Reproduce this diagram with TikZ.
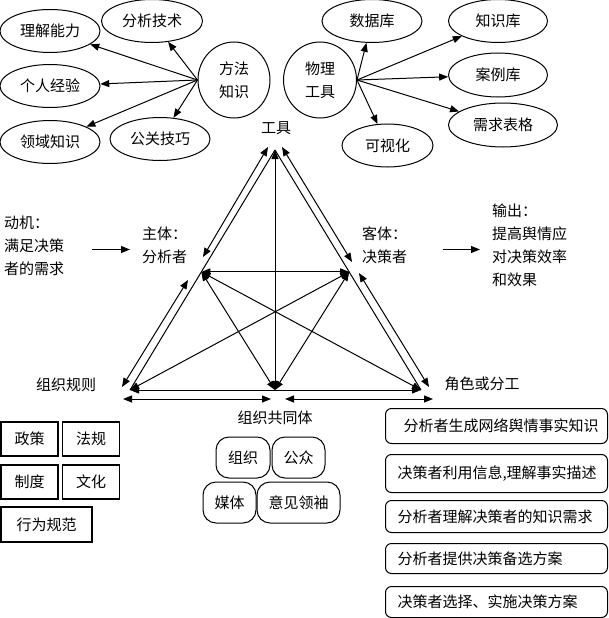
\documentclass[tikz,border=0pt]{standalone}
\usepackage{fontspec}
\setmainfont{Noto Sans CJK SC}
\usetikzlibrary{shapes.geometric,arrows.meta,calc}
\begin{document}
\begin{tikzpicture}[x=1pt,y=-1pt,
  every node/.style={font=\fontsize{15}{23}\selectfont},
  ell/.style={draw, ellipse, line width=1pt, inner sep=0pt, align=center},
  arr/.style={line width=1pt, -{Triangle[length=9pt,width=7pt]}},
  darr/.style={line width=1pt, {Triangle[length=9pt,width=7pt]}-{Triangle[length=9pt,width=7pt]}},
  plain/.style={line width=1pt},
  sq/.style={draw, line width=1.2pt, inner sep=0pt, minimum height=34},
  rr/.style={draw, line width=1pt, rounded corners=13, inner sep=0pt, minimum height=41},
  rbox/.style={draw, line width=1pt, rounded corners=6, inner xsep=0pt, inner ysep=0pt, text width=222, align=left, anchor=north west},
  txt/.style={inner sep=0pt, align=left, anchor=west}
]
\useasboundingbox (0,0) rectangle (608,618);

% ---- method knowledge cluster
\node[ell, minimum width=72, minimum height=76] (ff) at (234,80) {方法\\知识};
\node[ell, minimum width=100, minimum height=43] (ljnl) at (50,31) {理解能力};
\node[ell, minimum width=101, minimum height=43] (fxjs) at (152,21) {分析技术};
\node[ell, minimum width=100, minimum height=43] (grjy) at (50,86) {个人经验};
\node[ell, minimum width=100, minimum height=43] (lyzs) at (50,142) {领域知识};
\node[ell, minimum width=100, minimum height=43] (ggjq) at (160,139) {公关技巧};
\foreach \t in {ljnl,fxjs,grjy,lyzs,ggjq} \draw[arr] (ff.west) -- (\t);

% ---- physical tools cluster
\node[ell, minimum width=73, minimum height=76] (wl) at (320,80) {物理\\工具};
\node[ell, minimum width=100, minimum height=43] (sjk) at (372,21) {数据库};
\node[ell, minimum width=99, minimum height=43] (zsk) at (498,21) {知识库};
\node[ell, minimum width=99, minimum height=44] (alk) at (498,75) {案例库};
\node[ell, minimum width=109, minimum height=44] (xqbg) at (503,125) {需求表格};
\node[ell, minimum width=91, minimum height=43] (ksh) at (387.5,145.5) {可视化};
\foreach \t in {sjk,zsk,alk,xqbg,ksh} \draw[arr] (wl.east) -- (\t);

% ---- triangle
\coordinate (T) at (275,150);
\coordinate (BL) at (130,390);
\coordinate (BR) at (421,390);
\coordinate (M) at (275,390);
\coordinate (L) at ($(T)!0.508!(BL)$);
\coordinate (R) at ($(T)!0.508!(BR)$);
\draw[plain] (T) -- (BL);
\draw[plain] (T) -- (BR);
\draw[darr] (BL) -- (BR);
\draw[darr] (L) -- (R);
\draw[darr] (T) -- (M);
\draw[darr] (L) -- (M);
\draw[darr] (R) -- (M);
\draw[darr] (L) -- (BR);
\draw[darr] (R) -- (BL);

% outer parallel arrows
\coordinate (OL1) at (268,147);
\coordinate (OL2) at (203,257);
\coordinate (OL3) at (188,280);
\coordinate (OL4) at (122,387);
\coordinate (OR1) at (282,147);
\coordinate (OR2) at (352,262);
\coordinate (OR3) at (359,273);
\coordinate (OR4) at (429,387);
\draw[darr] (OL1) -- (OL2);
\draw[darr] (OL3) -- (OL4);
\draw[darr] (OR1) -- (OR2);
\draw[darr] (OR3) -- (OR4);
\coordinate (BA1) at (123,399);
\coordinate (BA2) at (271,399);
\coordinate (BA3) at (285,399);
\coordinate (BA4) at (433,399);
\draw[darr] (BA1) -- (BA2);
\draw[darr] (BA3) -- (BA4);

% ---- labels
\node (gj) at (276,128) {工具};
\node (zzgz) at (66,385) {组织规则};
\node (jsfg) at (482,384) {角色或分工};
\node (zzgtt) at (275,418) {组织共同体};

\node[txt] (dj) at (4,245.5) {动机：\\满足决策\\者的需求};
\node[txt] (zt) at (142,245.5) {主体：\\分析者};
\node[txt] (kt) at (362,245.5) {客体：\\决策者};
\node[txt] (sc) at (492,245.5) {输出：\\提高舆情应\\对决策效率\\和效果};
\draw[arr] ([shift={(28,4)}]dj.east) -- ([shift={(-12,4)}]zt.west);
\draw[arr] ([shift={(36,4)}]kt.east) -- ([shift={(-12,4)}]sc.west);

% ---- bottom-left boxes
\node[sq, minimum width=57] (zc) at (29.5,439) {政策};
\node[sq, minimum width=57] (fg) at (91,439) {法规};
\node[sq, minimum width=57] (zd) at (29.5,482) {制度};
\node[sq, minimum width=57] (wh) at (91,482) {文化};
\node[sq, minimum width=91, minimum height=35] (xwgf) at (46.5,524.5) {行为规范};

% ---- community boxes
\node[rr, minimum width=54] (zz) at (243,457.5) {组织};
\node[rr, minimum width=53] (gz) at (298.5,457.5) {公众};
\node[rr, minimum width=53] (mt) at (229.5,502.5) {媒体};
\node[rr, minimum width=83] (yjlx) at (298.5,502.5) {意见领袖};

% ---- right process boxes
\node[rbox, minimum height=35] (p1) at (385,408) {\hspace*{18pt}分析者生成网络舆情事实知识};
\node[rbox, minimum height=38] (p2) at (385,454) {\hspace*{12pt}决策者利用信息,理解事实描述};
\node[rbox, minimum height=32] (p3) at (385,500) {\hspace*{12pt}分析者理解决策者的知识需求};
\node[rbox, minimum height=30] (p4) at (385,543) {\hspace*{12pt}分析者提供决策备选方案};
\node[rbox, minimum height=31] (p5) at (385,586) {\hspace*{12pt}决策者选择、实施决策方案};
\end{tikzpicture}
\end{document}
